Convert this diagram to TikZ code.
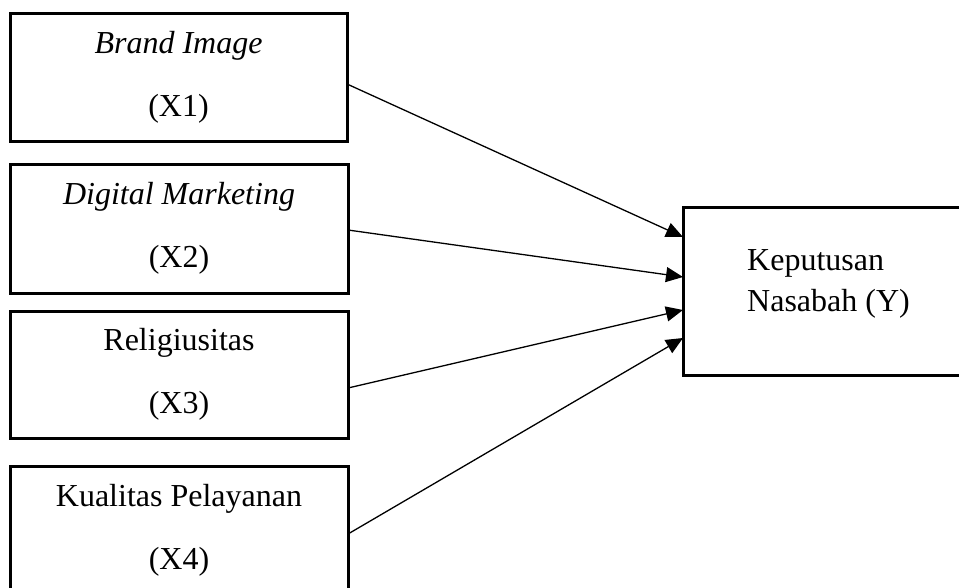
\documentclass[tikz,border=0pt]{standalone}
\usepackage{fontspec}
\setmainfont{Liberation Serif}
\usetikzlibrary{arrows.meta}
\begin{document}
\begin{tikzpicture}[x=1pt,y=-1pt,
  varbox/.style={draw,line width=3pt,rectangle,inner sep=0pt,outer sep=0pt,
    font=\fontsize{32}{63}\selectfont,align=center},
  link/.style={line width=1.3pt,-{Triangle[length=17pt,width=15pt]}}]
\useasboundingbox (0,0) rectangle (959,587);
\node[varbox,minimum width=337pt,minimum height=128pt] (x1) at (178.5,77) {\textit{Brand Image}\\(X1)};
\node[varbox,minimum width=338pt,minimum height=129pt] (x2) at (179,228.5) {\textit{Digital Marketing}\\(X2)};
\node[varbox,minimum width=338pt,minimum height=127pt] (x3) at (179,374.5) {Religiusitas\\(X3)};
\node[varbox,minimum width=338pt,minimum height=128pt] (x4) at (179,530) {Kualitas Pelayanan\\(X4)};
\node[draw,line width=3pt,rectangle,inner sep=0pt,outer sep=0pt,minimum width=287pt,minimum height=168pt] (y) at (826.5,291) {};
\node[anchor=west,align=left,inner sep=0pt,font=\fontsize{32}{41}\selectfont] (ylab) at (747,284) {Keputusan\\Nasabah (Y)};
\draw[link] ([yshift=-7pt]x1.east) -- ([yshift=54pt]y.west);
\draw[link] ([yshift=-1.5pt]x2.east) -- ([yshift=14pt]y.west);
\draw[link] ([yshift=-13.5pt]x3.east) -- ([yshift=-19pt]y.west);
\draw[link] ([yshift=-4pt]x4.east) -- ([yshift=-47pt]y.west);
\end{tikzpicture}
\end{document}
